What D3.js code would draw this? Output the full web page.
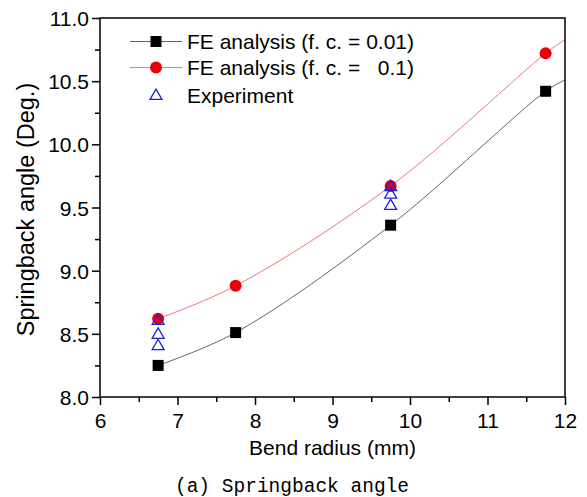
<!DOCTYPE html>
<html>
<head>
<meta charset="utf-8">
<script src="https://cdn.jsdelivr.net/npm/d3@7"></script>
<style>
  html, body { margin: 0; padding: 0; background: #fff; }
  svg { display: block; }
  text { font-family: Arial, "Liberation Sans", sans-serif; fill: #000; }
</style>
</head>
<body>
<div id="chart"></div>
<script>
// ── Data ──────────────────────────────────────────────────────────────────────
const radius = [6.75, 7.75, 9.75, 11.75];
const feLow = [8.25, 8.51, 9.36, 10.42];     // f. c. = 0.01
const feHigh = [8.62, 8.88, 9.67, 10.72];    // f. c. = 0.1
// where the fitted lines leave the frame at x = 12
const lineEndX = 12;
const feLowEnd = 10.51;
const feHighEnd = 10.83;
const expX = [6.75, 6.75, 6.75, 9.75, 9.75, 9.75];
const expY = [8.61, 8.50, 8.41, 9.67, 9.61, 9.52];
const xTicks = [6, 7, 8, 9, 10, 11, 12];
const yTicks = [8.0, 8.5, 9.0, 9.5, 10.0, 10.5, 11.0];
const legendLabels = ['FE analysis (f. c. = 0.01)', 'FE analysis (f. c. =   0.1)', 'Experiment'];

// ── Layout ────────────────────────────────────────────────────────────────────
const W = 587, H = 497;
const m = { left: 100, top: 18, right: 565, bottom: 397 };

const svg = d3.select('#chart').append('svg')
  .attr('width', W).attr('height', H);

const x = d3.scaleLinear().domain([6, 12]).range([m.left, m.right]);
const y = d3.scaleLinear().domain([8, 11]).range([m.bottom, m.top]);

svg.append('defs').append('clipPath').attr('id', 'plot')
  .append('rect')
  .attr('x', m.left).attr('y', m.top)
  .attr('width', m.right - m.left).attr('height', m.bottom - m.top);

// ── Series lines ──────────────────────────────────────────────────────────────
const line = d3.line().x(d => x(d[0])).y(d => y(d[1])).curve(d3.curveCatmullRom.alpha(0.5));
const lowPts = radius.map((r, i) => [r, feLow[i]]).concat([[lineEndX, feLowEnd]]);
const highPts = radius.map((r, i) => [r, feHigh[i]]).concat([[lineEndX, feHighEnd]]);

const series = svg.append('g').attr('clip-path', 'url(#plot)');
series.append('path').attr('d', line(lowPts))
  .attr('fill', 'none').attr('stroke', '#555').attr('stroke-width', 0.9);
series.append('path').attr('d', line(highPts))
  .attr('fill', 'none').attr('stroke', '#e86a6a').attr('stroke-width', 0.9);

// ── Markers ───────────────────────────────────────────────────────────────────
const sq = 11;
svg.append('g').selectAll('rect')
  .data(radius.map((r, i) => [r, feLow[i]]))
  .join('rect')
  .attr('x', d => x(d[0]) - sq / 2).attr('y', d => y(d[1]) - sq / 2)
  .attr('width', sq).attr('height', sq).attr('fill', '#000');

svg.append('g').selectAll('circle')
  .data(radius.map((r, i) => [r, feHigh[i]]))
  .join('circle')
  .attr('cx', d => x(d[0])).attr('cy', d => y(d[1]))
  .attr('r', 6).attr('fill', '#e8000b');

const tri = d3.symbol().type(d3.symbolTriangle).size(62);
svg.append('g').selectAll('path')
  .data(expX.map((v, i) => [v, expY[i]]))
  .join('path')
  .attr('d', tri)
  .attr('transform', d => `translate(${x(d[0])},${y(d[1]) + 1})`)
  .attr('fill', 'none').attr('stroke', '#1f1fe0').attr('stroke-width', 1.3);

// ── Axes ──────────────────────────────────────────────────────────────────────
const xAxis = svg.append('g').attr('transform', `translate(0,${m.bottom})`)
  .call(d3.axisBottom(x).tickValues(xTicks).tickSize(8).tickPadding(8).tickFormat(d3.format('d')));
const xMinor = svg.append('g').attr('transform', `translate(0,${m.bottom})`)
  .call(d3.axisBottom(x).tickValues(xTicks.slice(0, -1).map(v => v + 0.5)).tickSize(5).tickFormat(''));

const yAxis = svg.append('g').attr('transform', `translate(${m.left},0)`)
  .call(d3.axisLeft(y).tickValues(yTicks).tickSize(8).tickPadding(3).tickFormat(d3.format('.1f')));
const yMinor = svg.append('g').attr('transform', `translate(${m.left},0)`)
  .call(d3.axisLeft(y).tickValues(yTicks.slice(0, -1).map(v => v + 0.25)).tickSize(5).tickFormat(''));

[xAxis, xMinor, yAxis, yMinor].forEach(a => {
  a.select('.domain').remove();
  a.selectAll('line').attr('stroke', '#000').attr('stroke-width', 1.5);
  a.selectAll('text').style('font-size', '21px').attr('fill', '#000')
    .style('font-family', 'Arial, "Liberation Sans", sans-serif');
});
yAxis.selectAll('text').attr('dy', '0.36em');

// frame
svg.append('rect')
  .attr('x', m.left).attr('y', m.top)
  .attr('width', m.right - m.left).attr('height', m.bottom - m.top)
  .attr('fill', 'none').attr('stroke', '#000').attr('stroke-width', 1.5);

// ── Axis titles ───────────────────────────────────────────────────────────────
svg.append('text')
  .attr('x', (m.left + m.right) / 2).attr('y', 455)
  .attr('text-anchor', 'middle').style('font-size', '21px')
  .text('Bend radius (mm)');

svg.append('text')
  .attr('transform', `translate(34,${(m.top + m.bottom) / 2 + 2}) rotate(-90)`)
  .attr('text-anchor', 'middle').style('font-size', '23.5px')
  .text('Springback angle (Deg.)');

svg.append('text')
  .attr('x', 292).attr('y', 492)
  .attr('text-anchor', 'middle')
  .style('font-family', '"Liberation Mono", "DejaVu Sans Mono", monospace')
  .style('font-size', '19.5px')
  .text('(a) Springback angle');

// ── Legend ────────────────────────────────────────────────────────────────────
const legY = [41.5, 67.5, 95];
const leg = svg.append('g');
leg.append('line').attr('x1', 130).attr('x2', 182).attr('y1', legY[0]).attr('y2', legY[0])
  .attr('stroke', '#555').attr('stroke-width', 0.9);
leg.append('rect').attr('x', 156 - sq / 2).attr('y', legY[0] - sq / 2)
  .attr('width', sq).attr('height', sq).attr('fill', '#000');
leg.append('line').attr('x1', 130).attr('x2', 182).attr('y1', legY[1]).attr('y2', legY[1])
  .attr('stroke', '#e86a6a').attr('stroke-width', 0.9);
leg.append('circle').attr('cx', 156).attr('cy', legY[1]).attr('r', 6).attr('fill', '#e8000b');
leg.append('path').attr('d', tri)
  .attr('transform', `translate(156,${legY[2] + 1})`)
  .attr('fill', 'none').attr('stroke', '#1f1fe0').attr('stroke-width', 1.3);

leg.selectAll('text.lab')
  .data(legendLabels)
  .join('text').attr('class', 'lab')
  .attr('x', 187).attr('y', (d, i) => legY[i])
  .attr('dy', '0.36em')
  .style('font-size', '21px')
  .style('white-space', 'pre')
  .text(d => d);
</script>
</body>
</html>
